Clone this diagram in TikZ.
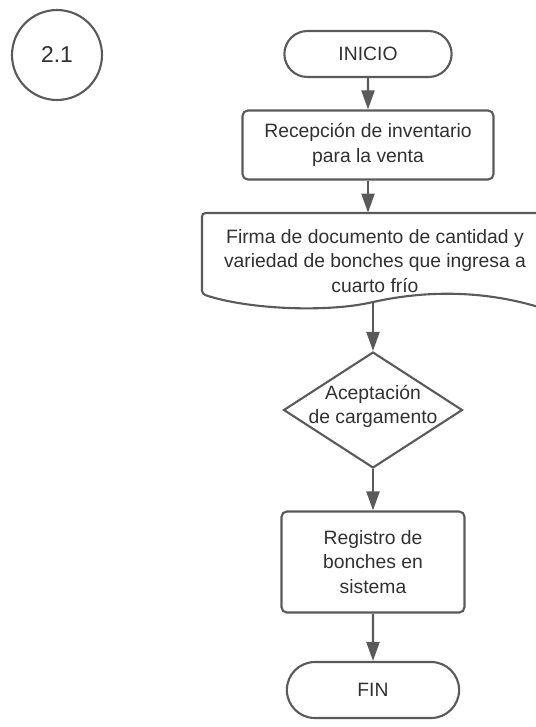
\documentclass[tikz,border=0pt]{standalone}
\usepackage{fontspec}
\setmainfont{Liberation Sans}
\usetikzlibrary{shapes.geometric, shapes.misc, arrows.meta}
\definecolor{linegray}{HTML}{5A5A5A}
\definecolor{textgray}{HTML}{303030}

\begin{document}
\begin{tikzpicture}[x=0.02cm, y=-0.02cm,
    every node/.style={font=\fontsize{11}{14}\selectfont, text=textgray, align=center},
    line/.style={draw=linegray, line width=1.2pt},
    arrow/.style={line, -{Triangle[length=0.38cm, width=0.26cm]}},
    terminal/.style={line, rounded rectangle},
    process/.style={line, rectangle, rounded corners=3pt},
    decision/.style={line, diamond, aspect=1.54, inner sep=-3pt}]
      \useasboundingbox (0, 0) rectangle (536, 727);

      \node[line, circle, minimum size=1.8cm, font=\fontsize{13}{15}\selectfont] (num) at (57, 55) {2.1};

      \node[terminal, minimum width=3.58cm, minimum height=0.92cm] (ini) at (368, 54) {INICIO};
      \node[process, minimum width=5.02cm, minimum height=1.38cm] (rec) at (368, 145) {Recepción de inventario\\para la venta};

      % documento, cortado por el borde derecho
      \node[minimum width=6.92cm, minimum height=1.92cm] (doc) at (375, 261) {Firma de documento de cantidad y\\variedad de bonches que ingresa a\\cuarto frío};
      \draw[line, rounded corners=2pt] (202, 213) -- (548, 213) -- (548, 310)
          .. controls (480, 288) and (420, 292) .. (373, 302)
          .. controls (328, 312) and (250, 310) .. (202, 294) -- cycle;
      \coordinate (docout) at (373, 302);

      \node[decision, minimum width=3.58cm, minimum height=2.32cm] (dec) at (373, 410)
          {\raisebox{2pt}[\height][\depth]{\begin{tabular}{@{}c@{}}Aceptación\\de cargamento\end{tabular}}};
      \node[process, minimum width=3.66cm, minimum height=2.02cm] (reg) at (373, 562) {Registro de\\bonches en\\sistema};
      \node[terminal, minimum width=3.68cm, minimum height=1.12cm] (fin) at (373, 690) {FIN};

      \draw[arrow] (ini) -- (rec);
      \draw[arrow] (rec.south) -- (rec.south |- doc.north);
      \draw[arrow] (docout) -- (dec);
      \draw[arrow] (dec) -- (reg);
      \draw[arrow] (reg) -- (fin);
    \end{tikzpicture}
\end{document}
